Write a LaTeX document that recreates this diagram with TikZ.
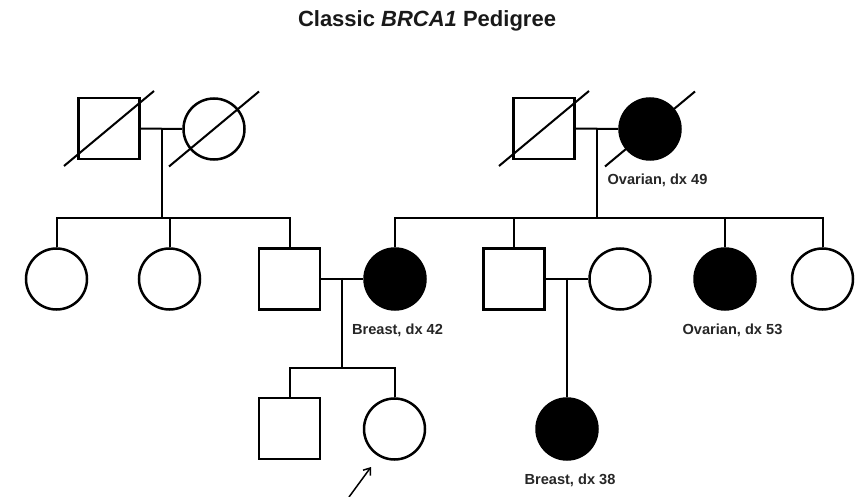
\documentclass[tikz,border=0pt]{standalone}
\usepackage{fontspec}
\setmainfont{Liberation Sans}
\usetikzlibrary{arrows.meta}
\begin{document}
\begin{tikzpicture}[x=1pt,y=-1pt,
  person/.style={draw,line width=2.5pt,minimum size=61pt,inner sep=0pt},
  male/.style={person,rectangle},
  female/.style={person,circle},
  affected/.style={fill=black},
  link/.style={line width=2pt},
  slash/.style={line width=2pt},
  dxlabel/.style={font=\fontsize{14.6}{16}\selectfont\bfseries,inner sep=0pt,text=black!85},
  titletext/.style={font=\fontsize{22}{26}\selectfont\bfseries,inner sep=0pt,anchor=base,text=black!90},
]
\useasboundingbox (0,0) rectangle (868,497);

% title
\node[titletext] (title) at (427,27) {Classic \textit{BRCA1} Pedigree};

% generation I
\node[male]   (gf1) at (109,128.5) {};
\node[female] (gm1) at (214,129) {};
\node[male]   (gf2) at (544,128.5) {};
\node[female,affected] (gm2) at (650,129) {};

% generation II
\node[female] (a1) at (56.5,279) {};
\node[female] (a2) at (169.5,279) {};
\node[male]   (a3) at (289.5,279) {};
\node[female,affected] (a4) at (395,279) {};
\node[male]   (b1) at (514,279) {};
\node[female] (b2) at (620,279) {};
\node[female,affected] (b3) at (725,279) {};
\node[female] (b4) at (822.5,279) {};

% generation III
\node[male]   (c1) at (289.5,428.5) {};
\node[female] (c2) at (394.5,429) {};
\node[female,affected] (d1) at (567,429) {};

% deceased marks
\foreach \p in {gf1,gm1,gf2,gm2}
  \draw[slash] ([shift={(-45,37.5)}]\p.center) -- ([shift={(45,-37.5)}]\p.center);

% diagnosis labels
\node[dxlabel] (l1) at (657.5,180) {Ovarian, dx 49};
\node[dxlabel] (l2) at (397.5,330) {Breast, dx 42};
\node[dxlabel] (l3) at (732.5,330) {Ovarian, dx 53};
\node[dxlabel] (l4) at (570,480) {Breast, dx 38};

% couples and lines of descent
\coordinate (m1) at (162,129);
\coordinate (s1) at (162,218);
\coordinate (m2) at (597,129);
\coordinate (s2) at (597,218);
\coordinate (m3) at (342,278);
\coordinate (s3) at (342,368);
\coordinate (m4) at (567,278);

\draw[link] (gf1.east) -- (gm1.west);
\draw[link] (m1) -- (s1);
\draw[link] (a1.north) -- (a1.north |- s1) -- (a3.north |- s1) -- (a3.north);
\draw[link] (a2.north) -- (a2.north |- s1);

\draw[link] (gf2.east) -- (gm2.west);
\draw[link] (m2) -- (s2);
\draw[link] (a4.north) -- (a4.north |- s2) -- (b4.north |- s2) -- (b4.north);
\draw[link] (b1.north) -- (b1.north |- s2);
\draw[link] (b3.north) -- (b3.north |- s2);

\draw[link] (a3.east) -- (a4.west);
\draw[link] (m3) -- (s3);
\draw[link] (c1.north) -- (c1.north |- s3) -- (c2.north |- s3) -- (c2.north);

\draw[link] (b1.east) -- (b2.west);
\draw[link] (m4) -- (d1.north);

% proband arrow
\coordinate (ar0) at (349,497);
\coordinate (ar1) at (371,467);
\draw[line width=1.5pt,-{Straight Barb[length=6pt,width=9pt]}] (ar0) -- (ar1);
\end{tikzpicture}
\end{document}
